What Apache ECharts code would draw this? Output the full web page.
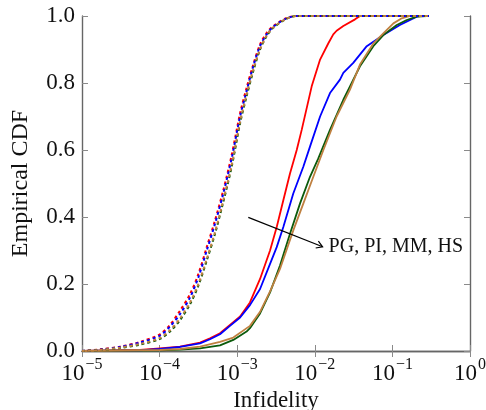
<!DOCTYPE html>
<html>
<head>
<meta charset="utf-8">
<script src="https://cdn.jsdelivr.net/npm/echarts@6/dist/echarts.min.js"></script>
<style>
html,body{margin:0;padding:0;background:#fff;}
#chart{width:486px;height:410px;}
</style>
</head>
<body>
<div id="chart"></div>
<script>
// ---- data (infidelity x, empirical CDF y) ----
var dashX = [1e-5, 1.71e-5, 3.09e-5, 5.58e-5, 1.01e-4, 1.36e-4, 1.83e-4, 2.47e-4, 3.16e-4, 4.05e-4, 5.18e-4, 6.62e-4, 8.49e-4, 1.09e-3, 1.32e-3, 1.61e-3, 1.97e-3, 2.40e-3, 2.92e-3, 4.35e-3, 5.85e-3, 0.296];
var dashPG = [0, 0.005, 0.013, 0.027, 0.05, 0.078, 0.12, 0.17, 0.23, 0.31, 0.39, 0.48, 0.585, 0.71, 0.785, 0.855, 0.915, 0.95, 0.97, 0.994, 1, 1];
var dashPI = [0, 0.004, 0.012, 0.025, 0.046, 0.073, 0.11, 0.16, 0.22, 0.30, 0.38, 0.47, 0.575, 0.70, 0.775, 0.85, 0.91, 0.945, 0.968, 0.993, 1, 1];
var dashMM = [0, 0.003, 0.009, 0.019, 0.036, 0.058, 0.092, 0.14, 0.195, 0.27, 0.35, 0.445, 0.55, 0.68, 0.76, 0.835, 0.90, 0.94, 0.965, 0.992, 1, 1];
var dashHS = [0, 0.003, 0.01, 0.021, 0.039, 0.062, 0.097, 0.145, 0.20, 0.275, 0.355, 0.45, 0.555, 0.685, 0.765, 0.84, 0.90, 0.942, 0.966, 0.992, 1, 1];

var solidPGx = [1e-5, 5.58e-5, 1.01e-4, 1.83e-4, 3.32e-4, 4.46e-4, 6.0e-4, 8.07e-4, 1.09e-3, 1.46e-3, 1.97e-3, 2.65e-3, 3.23e-3, 3.93e-3, 4.79e-3, 5.85e-3, 6.78e-3, 9.12e-3, 1.17e-2, 1.49e-2, 1.73e-2, 1.91e-2, 2.33e-2, 3.30e-2, 3.82e-2, 0.296];
var solidPGy = [0, 0.003, 0.008, 0.013, 0.025, 0.038, 0.053, 0.078, 0.103, 0.145, 0.215, 0.30, 0.37, 0.45, 0.53, 0.60, 0.66, 0.79, 0.87, 0.918, 0.945, 0.956, 0.97, 0.99, 1, 1];

var solidPIx = [1e-5, 5.58e-5, 1.01e-4, 1.83e-4, 3.32e-4, 4.46e-4, 6.0e-4, 8.07e-4, 1.09e-3, 1.46e-3, 1.97e-3, 2.65e-3, 3.23e-3, 3.93e-3, 5.28e-3, 7.11e-3, 8.67e-3, 1.17e-2, 1.57e-2, 2.11e-2, 2.33e-2, 3.13e-2, 4.67e-2, 7.64e-2, 0.125, 0.206, 0.227, 0.296];
var solidPIy = [0, 0.002, 0.006, 0.012, 0.023, 0.035, 0.05, 0.075, 0.10, 0.137, 0.185, 0.26, 0.31, 0.37, 0.47, 0.55, 0.61, 0.70, 0.77, 0.81, 0.83, 0.86, 0.91, 0.943, 0.973, 0.998, 1, 1];

var solidMMx = [1e-5, 1.01e-4, 1.83e-4, 3.32e-4, 6.0e-4, 8.91e-4, 1.32e-3, 1.46e-3, 1.97e-3, 2.65e-3, 3.56e-3, 4.79e-3, 6.44e-3, 8.67e-3, 1.11e-2, 1.57e-2, 2.33e-2, 2.84e-2, 3.82e-2, 5.68e-2, 7.64e-2, 0.114, 0.153, 0.206, 0.277, 0.296];
var solidMMy = [0, 0.002, 0.004, 0.008, 0.017, 0.033, 0.058, 0.068, 0.112, 0.175, 0.255, 0.35, 0.44, 0.52, 0.575, 0.66, 0.75, 0.79, 0.85, 0.91, 0.943, 0.973, 0.988, 0.998, 1, 1];

var solidHSx = [1e-5, 1.01e-4, 1.83e-4, 3.32e-4, 6.0e-4, 8.91e-4, 1.46e-3, 1.97e-3, 2.65e-3, 3.56e-3, 5.28e-3, 7.11e-3, 9.57e-3, 1.29e-2, 1.91e-2, 2.84e-2, 3.82e-2, 5.68e-2, 7.64e-2, 0.103, 0.132, 0.169, 0.296];
var solidHSy = [0, 0.003, 0.006, 0.013, 0.027, 0.04, 0.075, 0.117, 0.178, 0.245, 0.36, 0.44, 0.52, 0.60, 0.70, 0.78, 0.855, 0.918, 0.948, 0.978, 0.993, 1, 1];

var xTicks = [1e-5, 1e-4, 1e-3, 1e-2, 1e-1, 1];
var yTicks = [0, 0.2, 0.4, 0.6, 0.8, 1.0];
var annotationText = 'PG, PI, MM, HS';
var arrowFrom = [1.39e-3, 0.399];
var arrowTo = [1.26e-2, 0.311];

var COLORS = {PG: '#ff0000', PI: '#0000ff', MM: '#0b5a0b', HS: '#bf8040'};

function pairs(xs, ys) { return xs.map(function (x, i) { return [x, ys[i]]; }); }

var serif = '"Liberation Serif", "DejaVu Serif", serif';
var FS = 23;
function expLabel(v) {
  var e = Math.round(Math.log10(v));
  var s = String(e).replace('-', '−');
  return '{b|10}{s|' + s + '}';
}

function solid(name, xs, ys) {
  return {name: name, type: 'line', data: pairs(xs, ys), showSymbol: false, symbol: 'none',
    lineStyle: {color: COLORS[name], width: 1.8}, itemStyle: {color: COLORS[name]}, z: 3, silent: true, animation: false};
}
function dashed(name, ys) {
  return {name: name + ' dashed', type: 'line', data: pairs(dashX, ys), showSymbol: false, symbol: 'none', smooth: 0.3,
    lineStyle: {color: COLORS[name], width: 2, type: [3, 3]}, z: 4, silent: true, animation: false};
}

var chart = echarts.init(document.getElementById('chart'), null, {renderer: 'canvas'});
var axisLineStyle = {color: '#666666', width: 1.4};
var tickStyle = {color: '#8a8a8a', width: 1};
var option = {
  animation: false,
  backgroundColor: '#fff',
  grid: {left: 82, right: 16, top: 16, bottom: 59, show: false, containLabel: false, outerBoundsMode: 'none'},
  xAxis: [{
    type: 'log', logBase: 10, min: 1e-5, max: 1,
    name: 'Infidelity', nameLocation: 'middle', nameGap: 36,
    nameTextStyle: {fontFamily: serif, fontSize: FS, color: '#111'},
    axisLine: {show: true, lineStyle: axisLineStyle},
    axisTick: {show: true, inside: true, length: 6, lineStyle: tickStyle},
    minorTick: {show: false},
    splitLine: {show: false},
    axisLabel: {show: true, margin: 6, formatter: expLabel,
      rich: {
        b: {fontFamily: serif, fontSize: FS, color: '#111', verticalAlign: 'bottom', lineHeight: 28},
        s: {fontFamily: serif, fontSize: 16, color: '#111', verticalAlign: 'top', lineHeight: 28, padding: [0, 0, 9, 1]}
      }}
  }, {
    type: 'log', logBase: 10, min: 1e-5, max: 1, position: 'top',
    axisLine: {show: true, lineStyle: axisLineStyle},
    axisTick: {show: true, inside: true, length: 6, lineStyle: tickStyle},
    axisLabel: {show: false}, splitLine: {show: false}
  }],
  yAxis: [{
    type: 'value', min: 0, max: 1, interval: 0.2,
    name: 'Empirical CDF', nameLocation: 'middle', nameGap: 49,
    nameTextStyle: {fontFamily: serif, fontSize: 24, color: '#111'},
    axisLine: {show: true, lineStyle: axisLineStyle},
    axisTick: {show: true, inside: true, length: 6, lineStyle: tickStyle},
    splitLine: {show: false},
    axisLabel: {fontFamily: serif, fontSize: FS, color: '#111', margin: 7,
      formatter: function (v) { return v.toFixed(1); }}
  }, {
    type: 'value', min: 0, max: 1, interval: 0.2, position: 'right',
    axisLine: {show: true, lineStyle: axisLineStyle},
    axisTick: {show: true, inside: true, length: 6, lineStyle: tickStyle},
    axisLabel: {show: false}, splitLine: {show: false}
  }],
  series: [
    solid('PG', solidPGx, solidPGy),
    solid('PI', solidPIx, solidPIy),
    solid('MM', solidMMx, solidMMy),
    solid('HS', solidHSx, solidHSy),
    dashed('PG', dashPG),
    dashed('PI', dashPI),
    dashed('MM', dashMM),
    dashed('HS', dashHS)
  ]
};
chart.setOption(option);

// annotation arrow + label positioned through the axes
var p0 = chart.convertToPixel({xAxisIndex: 0, yAxisIndex: 0}, arrowFrom);
var p1 = chart.convertToPixel({xAxisIndex: 0, yAxisIndex: 0}, arrowTo);
var ang = Math.atan2(p1[1] - p0[1], p1[0] - p0[0]);
var hl = 7, ha = 0.55;
var a1 = [p1[0] - hl * Math.cos(ang - ha), p1[1] - hl * Math.sin(ang - ha)];
var a2 = [p1[0] - hl * Math.cos(ang + ha), p1[1] - hl * Math.sin(ang + ha)];
chart.setOption({
  graphic: [
    {type: 'line', shape: {x1: p0[0], y1: p0[1], x2: p1[0], y2: p1[1]}, style: {stroke: '#000', lineWidth: 1.2}, z: 10},
    {type: 'polyline', shape: {points: [a1, p1, a2]}, style: {stroke: '#000', lineWidth: 1.2, fill: null}, z: 10},
    {type: 'text', x: p1[0] + 6, y: p1[1], style: {text: annotationText, fontFamily: serif, fontSize: 20, fill: '#111', textVerticalAlign: 'middle', verticalAlign: 'middle'}, z: 10}
  ]
});
</script>
</body>
</html>
